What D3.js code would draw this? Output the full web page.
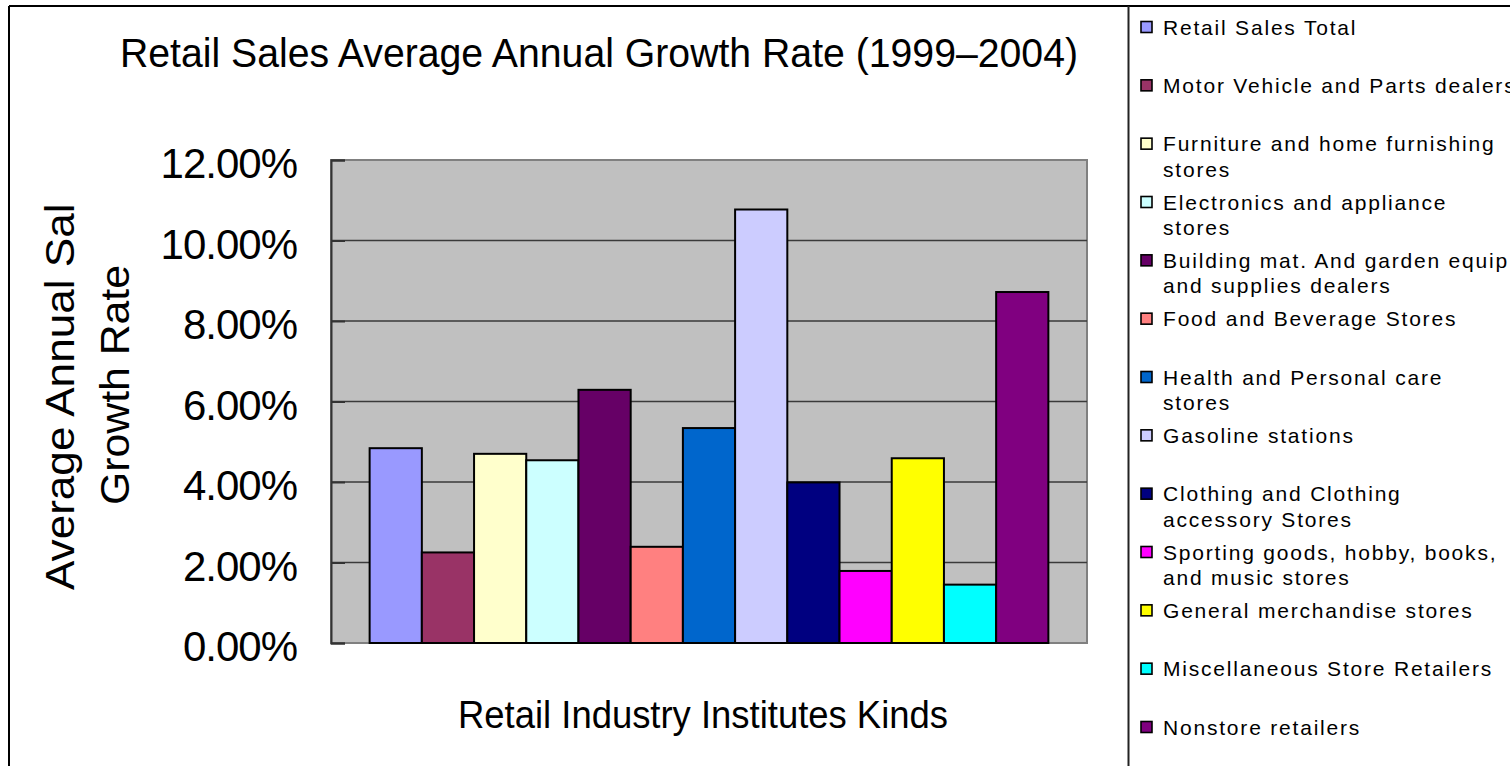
<!DOCTYPE html>
<html>
<head>
<meta charset="utf-8">
<script src="https://cdn.jsdelivr.net/npm/d3@7"></script>
<style>
  html, body { margin: 0; padding: 0; background: #ffffff; }
  svg { display: block; }
  text { font-family: "Liberation Sans", Arial, sans-serif; fill: #000; }
</style>
</head>
<body>
<svg id="chart" width="1510" height="766"></svg>
<script>
// Retail industry kinds (legend labels, "\n" marks the wrapped line)
const categories = [
  "Retail Sales Total",
  "Motor Vehicle and Parts dealers",
  "Furniture and home furnishing\nstores",
  "Electronics and appliance\nstores",
  "Building mat. And garden equip\nand supplies dealers",
  "Food and Beverage Stores",
  "Health and Personal care\nstores",
  "Gasoline stations",
  "Clothing and Clothing\naccessory Stores",
  "Sporting goods, hobby, books,\nand music  stores",
  "General merchandise stores",
  "Miscellaneous Store Retailers",
  "Nonstore retailers"
];

// Average annual sales growth rate, 1999-2004
const growthRates = [
  0.0484, 0.0225, 0.0470, 0.0454, 0.0629, 0.0239, 0.0534,
  0.1077, 0.0399, 0.0179, 0.0459, 0.0145, 0.0872
];

const barColors = [
  "#9999FF", "#993366", "#FFFFCC", "#CCFFFF", "#660066", "#FF8080", "#0066CC",
  "#CCCCFF", "#000080", "#FF00FF", "#FFFF00", "#00FFFF", "#800080"
];

const yTicks = [0, 0.02, 0.04, 0.06, 0.08, 0.10, 0.12];

const chartTitle = "Retail Sales Average Annual Growth Rate (1999\u20132004)";
const xTitle = "Retail Industry Institutes Kinds";
const yTitleLines = ["Average Annual Sales", "Growth Rate"];

const svg = d3.select("#chart");

// plot area geometry
const plot = { left: 331, right: 1087, top: 160, bottom: 643 };

const y = d3.scaleLinear().domain([0, 0.12]).range([plot.bottom, plot.top]);
const x = d3.scaleBand()
  .domain(categories)
  .range([plot.left, plot.right])
  .paddingInner(0)
  .paddingOuter(0.74);

// outer chart frame and legend divider
svg.append("line").attr("x1", 9).attr("x2", 1510).attr("y1", 6).attr("y2", 6)
  .attr("stroke", "#000").attr("stroke-width", 2);
svg.append("line").attr("x1", 9).attr("x2", 9).attr("y1", 6).attr("y2", 766)
  .attr("stroke", "#000").attr("stroke-width", 2);
svg.append("line").attr("x1", 1128.5).attr("x2", 1128.5).attr("y1", 6).attr("y2", 766)
  .attr("stroke", "#222").attr("stroke-width", 2);

// plot background
svg.append("rect")
  .attr("x", plot.left).attr("y", plot.top)
  .attr("width", plot.right - plot.left).attr("height", plot.bottom - plot.top)
  .attr("fill", "#C0C0C0")
  .attr("stroke", "#808080").attr("stroke-width", 2);

// horizontal gridlines
svg.append("g")
  .selectAll("line")
  .data(yTicks.filter(d => d > 0 && d < 0.12))
  .join("line")
  .attr("x1", plot.left).attr("x2", plot.right)
  .attr("y1", d => y(d)).attr("y2", d => y(d))
  .attr("stroke", "#3a3a3a").attr("stroke-width", 1.5);

// value axis with inside ticks
const yAxis = svg.append("g")
  .attr("transform", `translate(${plot.left},0)`)
  .call(d3.axisLeft(y).tickValues(yTicks).tickSize(-14).tickPadding(48)
    .tickFormat(d3.format(".2%")));
yAxis.select(".domain").attr("stroke", "#333").attr("stroke-width", 2);
yAxis.selectAll(".tick line").attr("stroke", "#333").attr("stroke-width", 2);
yAxis.selectAll(".tick text")
  .attr("font-family", "Liberation Sans, Arial, sans-serif")
  .attr("font-size", 42)
  .attr("letter-spacing", -1)
  .attr("fill", "#000")
  .attr("x", -34)
  .attr("dy", "0.42em");

// bars
svg.append("g")
  .selectAll("rect")
  .data(categories)
  .join("rect")
  .attr("x", d => x(d))
  .attr("y", (d, i) => y(growthRates[i]))
  .attr("width", x.bandwidth())
  .attr("height", (d, i) => y(0) - y(growthRates[i]))
  .attr("fill", (d, i) => barColors[i])
  .attr("stroke", "#000")
  .attr("stroke-width", 2);

// title
svg.append("text")
  .attr("x", 599).attr("y", 67)
  .attr("text-anchor", "middle")
  .attr("font-size", 41)
  .attr("textLength", 958)
  .attr("lengthAdjust", "spacingAndGlyphs")
  .text(chartTitle);

// category axis title
svg.append("text")
  .attr("x", 703).attr("y", 728)
  .attr("text-anchor", "middle")
  .attr("font-size", 38)
  .attr("textLength", 490)
  .attr("lengthAdjust", "spacingAndGlyphs")
  .text(xTitle);

// value axis title (first line runs past the top of its box and is cut)
svg.append("clipPath").attr("id", "ytitle-clip")
  .append("rect").attr("x", 0).attr("y", 203).attr("width", 300).attr("height", 563);
const yTitle = svg.append("g").attr("clip-path", "url(#ytitle-clip)");
yTitle.append("text")
  .attr("transform", "translate(74,590) rotate(-90)")
  .attr("text-anchor", "start")
  .attr("font-size", 40)
  .attr("textLength", 433)
  .attr("lengthAdjust", "spacingAndGlyphs")
  .text(yTitleLines[0]);
yTitle.append("text")
  .attr("transform", "translate(129,385) rotate(-90)")
  .attr("text-anchor", "middle")
  .attr("font-size", 40)
  .attr("textLength", 240)
  .attr("lengthAdjust", "spacingAndGlyphs")
  .text(yTitleLines[1]);

// legend
const legendY = d3.scalePoint().domain(categories).range([27, 727]);
const legend = svg.append("g")
  .selectAll("g")
  .data(categories)
  .join("g")
  .attr("transform", d => `translate(1141,${legendY(d)})`);

legend.append("rect")
  .attr("x", 0).attr("y", -5.5)
  .attr("width", 11).attr("height", 11)
  .attr("fill", (d, i) => barColors[i])
  .attr("stroke", "#000").attr("stroke-width", 1.6);

legend.append("text")
  .attr("x", 22)
  .attr("font-size", 21)
  .attr("letter-spacing", 1.8)
  .attr("fill", "#111")
  .selectAll("tspan")
  .data(d => d.split("\n"))
  .join("tspan")
  .attr("x", 22)
  .attr("y", (d, j) => j * 25.5)
  .attr("dy", "0.36em")
  .text(d => d);
</script>
</body>
</html>
